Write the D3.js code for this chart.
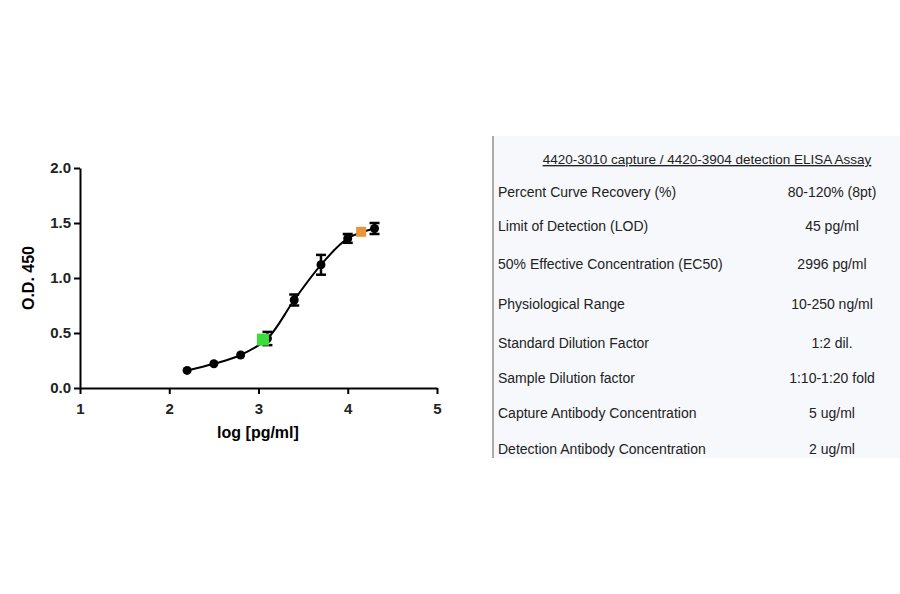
<!DOCTYPE html><html><head><meta charset="utf-8"><script src="https://cdn.jsdelivr.net/npm/d3@7"></script>
<style>body{margin:0;background:#fff}text{font-family:"Liberation Sans",Arial,sans-serif}</style></head><body>
<svg id="c" width="900" height="594"></svg>
<script>
const xs=[2.2,2.5,2.8,3.1,3.4,3.7,4.0,4.3];
const ys=[0.16,0.22,0.30,0.45,0.80,1.12,1.36,1.45];
const errs=[0.01,0.01,0.01,0.06,0.05,0.09,0.04,0.05];
const green=[3.05,0.44], orange=[4.15,1.42];
const xTicks=[1,2,3,4,5], yTicks=[0,0.5,1.0,1.5,2.0];
const labels=["Percent Curve Recovery (%)","Limit of Detection (LOD)","50% Effective Concentration (EC50)","Physiological Range","Standard Dilution Factor","Sample Dilution factor","Capture Antibody Concentration","Detection Antibody Concentration"];
const values=["80-120% (8pt)","45 pg/ml","2996 pg/ml","10-250 ng/ml","1:2 dil.","1:10-1:20 fold","5 ug/ml","2 ug/ml"];
const title="4420-3010 capture / 4420-3904 detection ELISA Assay";
const svg=d3.select("#c");
const x=d3.scaleLinear().domain([1,5]).range([80,437]);
const y=d3.scaleLinear().domain([0,2]).range([388,168]);
const gx=svg.append("g").attr("transform","translate(0,388)").call(d3.axisBottom(x).tickValues(xTicks).tickFormat(d3.format("d")).tickSize(6).tickSizeOuter(0));
const gy=svg.append("g").attr("transform","translate(80,0)").call(d3.axisLeft(y).tickValues(yTicks).tickFormat(d3.format(".1f")).tickSize(6).tickSizeOuter(0));
[gx,gy].forEach(g=>{g.selectAll("path,line").attr("stroke","#000").attr("stroke-width",2);g.selectAll("text").attr("font-size",15).attr("font-weight","bold").attr("fill","#222");});
gx.selectAll("text").attr("dy","1.1em");
svg.append("text").attr("x",258).attr("y",438).attr("text-anchor","middle").attr("font-size",16).attr("font-weight","bold").text("log [pg/ml]");
svg.append("text").attr("transform","translate(34,278) rotate(-90)").attr("text-anchor","middle").attr("font-size",16).attr("font-weight","bold").text("O.D. 450");
const pts=xs.map((v,i)=>[v,ys[i]]);
svg.append("path").attr("d",d3.line().x(d=>x(d[0])).y(d=>y(d[1])).curve(d3.curveCatmullRom.alpha(0.5))(pts)).attr("fill","none").attr("stroke","#000").attr("stroke-width",2);
pts.forEach((p,i)=>{
 if(errs[i]>0.02){const g=svg.append("g").attr("stroke","#000").attr("stroke-width",2.5);
  g.append("line").attr("x1",x(p[0])).attr("x2",x(p[0])).attr("y1",y(p[1]-errs[i])).attr("y2",y(p[1]+errs[i]));
  [p[1]-errs[i],p[1]+errs[i]].forEach(v=>g.append("line").attr("x1",x(p[0])-5).attr("x2",x(p[0])+5).attr("y1",y(v)).attr("y2",y(v)));}
 svg.append("circle").attr("cx",x(p[0])).attr("cy",y(p[1])).attr("r",4.5).attr("fill","#000");
});
svg.append("rect").attr("x",x(green[0])-6).attr("y",y(green[1])-6).attr("width",12).attr("height",12).attr("fill","#3ddc3d");
svg.append("rect").attr("x",x(orange[0])-5).attr("y",y(orange[1])-5).attr("width",10).attr("height",10).attr("fill","#e8963a");
svg.append("rect").attr("x",493).attr("y",136).attr("width",407).attr("height",322).attr("fill","#f6f8fb");
svg.append("line").attr("x1",493).attr("x2",493).attr("y1",136).attr("y2",458).attr("stroke","#aaa").attr("stroke-width",2);
svg.append("text").attr("x",707).attr("y",164).attr("text-anchor","middle").attr("font-size",13.5).attr("fill","#222").attr("text-decoration","underline").text(title);
const rowY=[197,231,269,309,348,383,418,454];
labels.forEach((l,i)=>{
 svg.append("text").attr("x",498).attr("y",rowY[i]).attr("font-size",14).attr("fill","#222").text(l);
 svg.append("text").attr("x",832).attr("y",rowY[i]).attr("text-anchor","middle").attr("font-size",14).attr("fill","#222").text(values[i]);
});
</script></body></html>
